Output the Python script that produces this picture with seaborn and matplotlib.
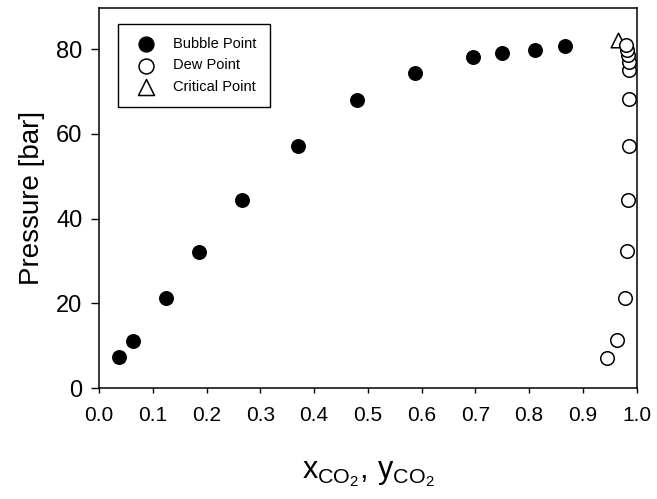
import matplotlib
matplotlib.use("Agg")
import matplotlib.pyplot as plt
import seaborn as sns
import pandas as pd

# CO2 mole fraction vs pressure
bubble_x = [0.037, 0.063, 0.125, 0.186, 0.266, 0.369, 0.479, 0.588, 0.696, 0.750, 0.810, 0.866]
bubble_p = [7.3, 11.1, 21.2, 32.1, 44.4, 57.1, 68.0, 74.3, 78.1, 79.1, 79.8, 80.7]

dew_y = [0.944, 0.964, 0.979, 0.982, 0.984, 0.985, 0.985, 0.985, 0.985, 0.984, 0.983, 0.981]
dew_p = [7.1, 11.3, 21.4, 32.4, 44.5, 57.1, 68.3, 75.0, 77.0, 78.6, 79.8, 80.9]

crit_x = [0.966]
crit_p = [82.1]

x_ticks = [0.0, 0.1, 0.2, 0.3, 0.4, 0.5, 0.6, 0.7, 0.8, 0.9, 1.0]
y_ticks = [0, 20, 40, 60, 80]

sns.set_style("ticks")
plt.rcParams["font.family"] = ["Liberation Sans", "DejaVu Sans"]
plt.rcParams["mathtext.fontset"] = "custom"
plt.rcParams["mathtext.rm"] = "Liberation Sans"
plt.rcParams["mathtext.it"] = "Liberation Sans"
plt.rcParams["text.color"] = "black"
plt.rcParams["axes.labelcolor"] = "black"

bubble = pd.DataFrame({"x": bubble_x, "p": bubble_p})
dew = pd.DataFrame({"x": dew_y, "p": dew_p})
crit = pd.DataFrame({"x": crit_x, "p": crit_p})

fig = plt.figure(figsize=(6.57, 4.99), dpi=100)
ax = fig.add_axes([0.151, 0.222, 0.818, 0.762])

sns.scatterplot(data=bubble, x="x", y="p", ax=ax, marker="o", s=95,
                color="black", edgecolor="black", linewidth=1, label="Bubble Point", zorder=3)
sns.scatterplot(data=dew, x="x", y="p", ax=ax, marker="o", s=95,
                facecolor="white", edgecolor="black", linewidth=1.1, label="Dew Point", zorder=3)
sns.scatterplot(data=crit, x="x", y="p", ax=ax, marker="^", s=110,
                facecolor="white", edgecolor="black", linewidth=1.1, label="Critical Point", zorder=2)

ax.set_xlim(0.0, 1.0)
ax.set_ylim(0, 89.7)
ax.set_xticks(x_ticks)
ax.set_xticklabels([f"{t:.1f}" for t in x_ticks])
ax.set_yticks(y_ticks)
ax.tick_params(axis="both", direction="out", width=1, colors="black", labelcolor="black")
ax.tick_params(axis="x", length=3.5, pad=9, labelsize=15)
ax.tick_params(axis="y", length=5.5, pad=6.5, labelsize=17)

for sp in ax.spines.values():
    sp.set_visible(True)
    sp.set_linewidth(1.1)
    sp.set_color("black")

ax.set_xlabel(r"$\mathregular{x_{CO_2},\,y_{CO_2}}$", fontsize=22, labelpad=25)
ax.set_ylabel("Pressure [bar]", fontsize=20, labelpad=8)

leg = ax.legend(loc="upper left", bbox_to_anchor=(0.035, 0.958), borderaxespad=0,
                fontsize=10.5, frameon=True, fancybox=False, edgecolor="black",
                framealpha=1, handletextpad=0.9, labelspacing=0.5, borderpad=0.9,
                markerscale=1.1)
leg.get_frame().set_linewidth(1)

fig.savefig("out.png", dpi=100)
